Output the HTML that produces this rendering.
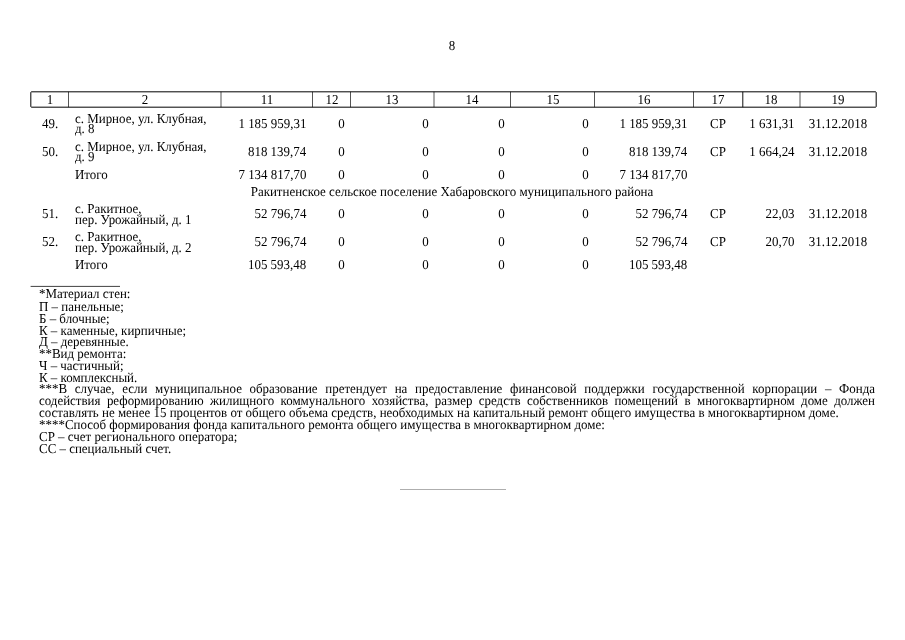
<!DOCTYPE html>
<html lang="ru">
<head>
<meta charset="utf-8">
<title>8</title>
<style>
html,body{margin:0;padding:0;background:#fff;}
body{width:905px;height:640px;position:relative;overflow:hidden;font-family:"Liberation Serif","Times New Roman",serif;font-size:13.6px;color:#000;}
.t{position:absolute;white-space:nowrap;line-height:13px;height:13px;text-rendering:geometricPrecision;transform:scaleX(0.952);}
.l{transform-origin:0 0;}
.r{transform-origin:100% 0;}
.c{transform-origin:50% 0;width:600px;text-align:center;}
.j{text-align:justify;text-align-last:justify;white-space:normal;}
.ln{position:absolute;left:0;top:0;}
</style>
</head>
<body>
<svg class="ln" width="905" height="640" viewBox="0 0 905 640">
<g stroke="#000" stroke-width="1" fill="none">
<rect x="30.82" y="91.82" width="845.36" height="15.36" rx="0.6"/>
<line x1="68.5" y1="91.82" x2="68.5" y2="107.18" stroke-width="0.67"/>
<line x1="221.0" y1="91.82" x2="221.0" y2="107.18" stroke-width="0.67"/>
<line x1="312.5" y1="91.82" x2="312.5" y2="107.18" stroke-width="0.67"/>
<line x1="350.5" y1="91.82" x2="350.5" y2="107.18" stroke-width="0.67"/>
<line x1="434.0" y1="91.82" x2="434.0" y2="107.18" stroke-width="0.67"/>
<line x1="510.5" y1="91.82" x2="510.5" y2="107.18" stroke-width="0.67"/>
<line x1="594.5" y1="91.82" x2="594.5" y2="107.18" stroke-width="0.67"/>
<line x1="693.5" y1="91.82" x2="693.5" y2="107.18" stroke-width="0.67"/>
<line x1="742.8" y1="91.82" x2="742.8" y2="107.18" stroke-width="0.94"/>
<line x1="800.0" y1="91.82" x2="800.0" y2="107.18" stroke-width="0.67"/>
</g>
<line x1="30.6" y1="286.4" x2="120" y2="286.4" stroke="#000" stroke-width="0.75"/>
<line x1="400" y1="489.5" x2="506" y2="489.5" stroke="#999" stroke-width="0.8"/>
</svg>
<header class="pagenum">
<div class="t c" style="top:39px;left:152.1px;">8</div>
</header>
<main class="sheet">
<div class="thead">
<div class="t c" style="top:93px;left:-250.34px;">1</div>
<div class="t c" style="top:93px;left:-155.25px;">2</div>
<div class="t c" style="top:93px;left:-33.25px;">11</div>
<div class="t c" style="top:93px;left:31.5px;">12</div>
<div class="t c" style="top:93px;left:92.25px;">13</div>
<div class="t c" style="top:93px;left:172.25px;">14</div>
<div class="t c" style="top:93px;left:252.5px;">15</div>
<div class="t c" style="top:93px;left:344px;">16</div>
<div class="t c" style="top:93px;left:418.15px;">17</div>
<div class="t c" style="top:93px;left:471.4px;">18</div>
<div class="t c" style="top:93px;left:538.09px;">19</div>
</div>
<div class="row">
<div class="t l" style="top:117px;left:41.5px;">49.</div>
<div class="t l" style="top:112px;left:75.3px;">с. Мирное, ул. Клубная,</div>
<div class="t l" style="top:122px;left:75.3px;">д. 8</div>
<div class="t r" style="top:117px;right:598.4px;">1 185 959,31</div>
<div class="t r" style="top:117px;right:560px;">0</div>
<div class="t r" style="top:117px;right:476.1px;">0</div>
<div class="t r" style="top:117px;right:400.1px;">0</div>
<div class="t r" style="top:117px;right:315.8px;">0</div>
<div class="t r" style="top:117px;right:217.6px;">1 185 959,31</div>
<div class="t c" style="top:117px;left:418px;">СР</div>
<div class="t r" style="top:117px;right:110.4px;">1 631,31</div>
<div class="t c" style="top:117px;left:538.2px;">31.12.2018</div>
</div>
<div class="row">
<div class="t l" style="top:145px;left:41.5px;">50.</div>
<div class="t l" style="top:140px;left:75.3px;">с. Мирное, ул. Клубная,</div>
<div class="t l" style="top:150px;left:75.3px;">д. 9</div>
<div class="t r" style="top:145px;right:598.4px;">818 139,74</div>
<div class="t r" style="top:145px;right:560px;">0</div>
<div class="t r" style="top:145px;right:476.1px;">0</div>
<div class="t r" style="top:145px;right:400.1px;">0</div>
<div class="t r" style="top:145px;right:315.8px;">0</div>
<div class="t r" style="top:145px;right:217.6px;">818 139,74</div>
<div class="t c" style="top:145px;left:418px;">СР</div>
<div class="t r" style="top:145px;right:110.4px;">1 664,24</div>
<div class="t c" style="top:145px;left:538.2px;">31.12.2018</div>
</div>
<div class="row">
<div class="t l" style="top:168px;left:75.3px;">Итого</div>
<div class="t r" style="top:168px;right:598.4px;">7 134 817,70</div>
<div class="t r" style="top:168px;right:560px;">0</div>
<div class="t r" style="top:168px;right:476.1px;">0</div>
<div class="t r" style="top:168px;right:400.1px;">0</div>
<div class="t r" style="top:168px;right:315.8px;">0</div>
<div class="t r" style="top:168px;right:217.6px;">7 134 817,70</div>
</div>
<div class="row group">
<div class="t c" style="top:185px;left:152.45px;">Ракитненское сельское поселение Хабаровского муниципального района</div>
</div>
<div class="row">
<div class="t l" style="top:207px;left:41.5px;">51.</div>
<div class="t l" style="top:202px;left:75.3px;">с. Ракитное,</div>
<div class="t l" style="top:213px;left:75.3px;">пер. Урожайный, д. 1</div>
<div class="t r" style="top:207px;right:598.4px;">52 796,74</div>
<div class="t r" style="top:207px;right:560px;">0</div>
<div class="t r" style="top:207px;right:476.1px;">0</div>
<div class="t r" style="top:207px;right:400.1px;">0</div>
<div class="t r" style="top:207px;right:315.8px;">0</div>
<div class="t r" style="top:207px;right:217.6px;">52 796,74</div>
<div class="t c" style="top:207px;left:418px;">СР</div>
<div class="t r" style="top:207px;right:110.4px;">22,03</div>
<div class="t c" style="top:207px;left:538.2px;">31.12.2018</div>
</div>
<div class="row">
<div class="t l" style="top:235px;left:41.5px;">52.</div>
<div class="t l" style="top:230px;left:75.3px;">с. Ракитное,</div>
<div class="t l" style="top:241px;left:75.3px;">пер. Урожайный, д. 2</div>
<div class="t r" style="top:235px;right:598.4px;">52 796,74</div>
<div class="t r" style="top:235px;right:560px;">0</div>
<div class="t r" style="top:235px;right:476.1px;">0</div>
<div class="t r" style="top:235px;right:400.1px;">0</div>
<div class="t r" style="top:235px;right:315.8px;">0</div>
<div class="t r" style="top:235px;right:217.6px;">52 796,74</div>
<div class="t c" style="top:235px;left:418px;">СР</div>
<div class="t r" style="top:235px;right:110.4px;">20,70</div>
<div class="t c" style="top:235px;left:538.2px;">31.12.2018</div>
</div>
<div class="row">
<div class="t l" style="top:258px;left:75.3px;">Итого</div>
<div class="t r" style="top:258px;right:598.4px;">105 593,48</div>
<div class="t r" style="top:258px;right:560px;">0</div>
<div class="t r" style="top:258px;right:476.1px;">0</div>
<div class="t r" style="top:258px;right:400.1px;">0</div>
<div class="t r" style="top:258px;right:315.8px;">0</div>
<div class="t r" style="top:258px;right:217.6px;">105 593,48</div>
</div>
</main>
<footer class="notes">
<div class="t l" style="top:287px;left:38.5px;">*Материал стен:</div>
<div class="t l" style="top:300px;left:38.5px;">П – панельные;</div>
<div class="t l" style="top:312px;left:38.5px;">Б – блочные;</div>
<div class="t l" style="top:324px;left:38.5px;">К – каменные, кирпичные;</div>
<div class="t l" style="top:335px;left:38.5px;">Д – деревянные.</div>
<div class="t l" style="top:347px;left:38.5px;">**Вид ремонта:</div>
<div class="t l" style="top:359px;left:38.5px;">Ч – частичный;</div>
<div class="t l" style="top:371px;left:38.5px;">К – комплексный.</div>
<div class="t l j" style="top:382px;left:38.5px;width:878.15px;">***В случае, если муниципальное образование претендует на предоставление финансовой поддержки государственной корпорации – Фонда</div>
<div class="t l j" style="top:394px;left:38.5px;width:878.15px;">содействия реформированию жилищного коммунального хозяйства, размер средств собственников помещений в многоквартирном доме должен</div>
<div class="t l" style="top:406px;left:38.5px;">составлять не менее 15 процентов от общего объема средств, необходимых на капитальный ремонт общего имущества в многоквартирном доме.</div>
<div class="t l" style="top:418px;left:38.5px;">****Способ формирования фонда капитального ремонта общего имущества в многоквартирном доме:</div>
<div class="t l" style="top:430px;left:38.5px;">СР – счет регионального оператора;</div>
<div class="t l" style="top:442px;left:38.5px;">СС – специальный счет.</div>
</footer>
</body>
</html>
